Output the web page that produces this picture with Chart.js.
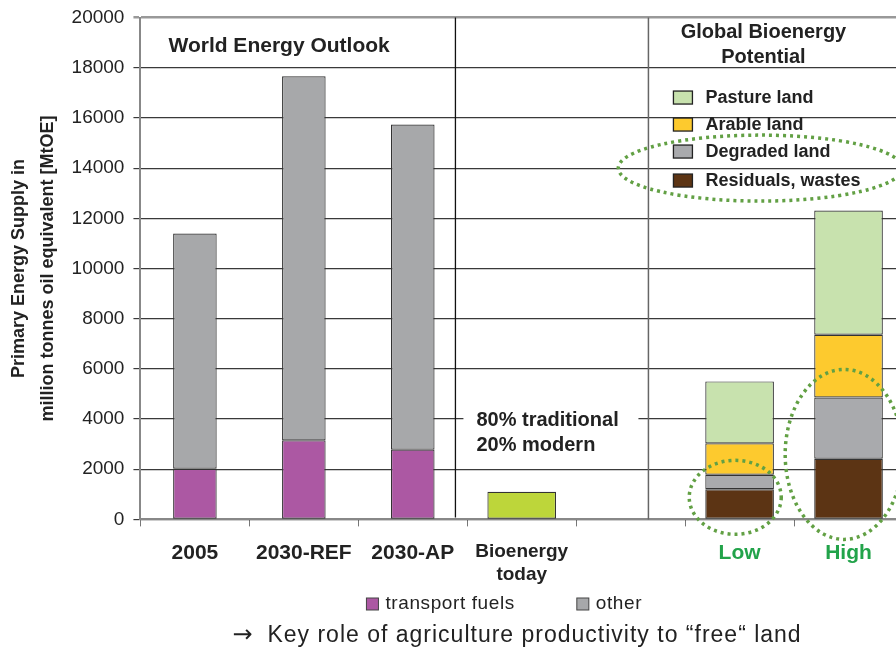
<!DOCTYPE html>
<html>
<head>
<meta charset="utf-8">
<script src="https://cdn.jsdelivr.net/npm/chart.js@4.4.0/dist/chart.umd.min.js"></script>
<style>
  html, body { margin: 0; padding: 0; background: #fff; overflow: hidden; }
  #wrap { width: 905px; height: 653px; }
</style>
</head>
<body>
<div id="wrap"><canvas id="chart"></canvas></div>
<script>
const categories = ["2005", "2030-REF", "2030-AP", ["Bioenergy", "today"], "", "Low", "High"];
const yTicks = [0, 2000, 4000, 6000, 8000, 10000, 12000, 14000, 16000, 18000, 20000];

// World Energy Outlook
const transportFuels = [2020, 3150, 2780, null, null, null, null];
const otherSupply = [9370, 14510, 12960, null, null, null, null];
// today
const bioenergyToday = [null, null, null, 1100, null, null, null];
// global bioenergy potential (low / high)
const residualsWastes = [null, null, null, null, null, 1200, 2420];
const degradedLand = [null, null, null, null, null, 580, 2440];
const arableLand = [null, null, null, null, null, 1250, 2500];
const pastureLand = [null, null, null, null, null, 2470, 4950];

const TEXT = "#222";
const DOTS = "#62a044";
Chart.defaults.font.family = "'Liberation Sans', Arial, sans-serif";
Chart.defaults.color = TEXT;

function font(size, bold, family) {
    return (bold ? "bold " : "") + size + "px " + (family || "'Liberation Sans', Arial, sans-serif");
}

/* ---------------- OVERLAY (panels, notes, legends, circles) ---------------- */

const overlay = {
    id: "overlay",
    beforeDatasetsDraw(chart) {
        const ctx = chart.ctx, ca = chart.chartArea;
        ctx.save();
        // panel separators
        ctx.strokeStyle = "#111";
        ctx.lineWidth = 1.3;
        ctx.beginPath();
        ctx.moveTo(ca.left + 315, ca.top);
        ctx.lineTo(ca.left + 315, ca.bottom - 2);
        ctx.stroke();
        ctx.strokeStyle = "#666";
        ctx.lineWidth = 1.5;
        ctx.beginPath();
        ctx.moveTo(ca.left + 508, ca.top);
        ctx.lineTo(ca.left + 508, ca.bottom);
        ctx.stroke();
        // white box behind the note
        ctx.fillStyle = "#fff";
        ctx.fillRect(ca.left + 323, ca.top + 388, 175, 52);
        ctx.restore();
    },
    afterDraw(chart) {
        const ctx = chart.ctx, ca = chart.chartArea;
        ctx.save();
        ctx.fillStyle = TEXT;
        ctx.textBaseline = "middle";

        ctx.font = font(21, true);
        ctx.textAlign = "left";
        ctx.fillText("World Energy Outlook", ca.left + 28, ca.top + 29);

        ctx.font = font(20, true);
        ctx.textAlign = "center";
        ctx.fillText("Global Bioenergy", ca.left + 623, ca.top + 15);
        ctx.fillText("Potential", ca.left + 623, ca.top + 40);

        ctx.textAlign = "left";
        ctx.fillText("80% traditional", ca.left + 336, ca.top + 403);
        ctx.fillText("20% modern", ca.left + 336, ca.top + 428);

        // potential legend (top right)
        const rows = [6, 5, 4, 3];
        const rowY = [80, 107, 134, 163];
        ctx.font = font(18, true);
        rows.forEach((di, i) => {
            const ds = chart.data.datasets[di];
            const y = ca.top + rowY[i];
            ctx.fillStyle = ds.backgroundColor;
            ctx.fillRect(ca.left + 533, y - 6.5, 19, 13);
            ctx.strokeStyle = "#222";
            ctx.lineWidth = 1.3;
            ctx.strokeRect(ca.left + 533, y - 6.5, 19, 13);
            ctx.fillStyle = TEXT;
            ctx.fillText(ds.label, ca.left + 565, y);
        });

        // bottom legend (WEO series)
        ctx.font = font(19, false);
        ctx.letterSpacing = "0.6px";
        let lx = ca.left + 226;
        const ly = 604;
        [0, 1].forEach(di => {
            const ds = chart.data.datasets[di];
            ctx.fillStyle = ds.backgroundColor;
            ctx.fillRect(lx, ly - 6, 12, 12);
            ctx.strokeStyle = "#444";
            ctx.lineWidth = 1;
            ctx.strokeRect(lx, ly - 6, 12, 12);
            ctx.fillStyle = TEXT;
            ctx.fillText(ds.label, lx + 19, ly);
            lx += 19 + ctx.measureText(ds.label).width + 62;
        });

        // footnote
        ctx.letterSpacing = "0px";
        ctx.font = font(24, false, "'DejaVu Sans', sans-serif");
        ctx.fillText("\u2192", ca.left + 92, 636);
        ctx.font = font(23, false);
        ctx.letterSpacing = "1px";
        ctx.fillText("Key role of agriculture productivity to \u201cfree\u201c land", ca.left + 127, 636);
        ctx.letterSpacing = "0px";

        // dotted circles
        ctx.strokeStyle = DOTS;
        ctx.lineWidth = 3.5;
        ctx.setLineDash([3, 4]);
        const x = chart.scales.x, yS = chart.scales.y;
        [[5.19, 14000, 142, 33], [4.96, 880, 46, 37], [5.96, 2590, 59, 85]].forEach(e => {
            ctx.beginPath();
            ctx.ellipse(x.getPixelForValue(e[0]), yS.getPixelForValue(e[1]), e[2], e[3], 0, 0, Math.PI * 2);
            ctx.stroke();
        });
        ctx.restore();
    }
};

function barSet(label, data, color, pct) {
    return {
        label: label,
        data: data,
        backgroundColor: color,
        borderColor: "#333",
        borderWidth: 1.2,
        borderSkipped: false,
        barPercentage: pct,
        categoryPercentage: 1
    };
}

new Chart(document.getElementById("chart"), {
    type: "bar",
    data: {
        labels: categories,
        datasets: [
            barSet("transport fuels", transportFuels, "#ac58a3", 0.4),
            barSet("other", otherSupply, "#a7a8aa", 0.4),
            barSet("Bioenergy today", bioenergyToday, "#bdd63a", 0.63),
            barSet("Residuals, wastes", residualsWastes, "#5c3414", 0.63),
            barSet("Degraded land", degradedLand, "#a9aaad", 0.63),
            barSet("Arable land", arableLand, "#fdca2e", 0.63),
            barSet("Pasture land", pastureLand, "#c8e2ae", 0.63)
        ]
    },
    options: {
        responsive: true,
        maintainAspectRatio: false,
        animation: false,
        layout: { padding: { top: 16, right: 2, left: 0, bottom: 53 } },
        plugins: {
            legend: { display: false },
            tooltip: { enabled: false }
        },
        scales: {
            x: {
                stacked: true,
                grid: { drawOnChartArea: false, offset: true, tickLength: 7, color: "#777" },
                border: { color: "#888", width: 2 },
                ticks: {
                    autoSkip: false,
                    maxRotation: 0,
                    padding: 14,
                    font: c => ({ size: c.index === 3 ? 19 : 21, weight: "bold" }),
                    color: c => c.index >= 5 ? "#22a34a" : TEXT
                }
            },
            y: {
                stacked: true,
                min: 0,
                max: 20000,
                afterBuildTicks: s => { s.ticks = yTicks.map(v => ({ value: v })); },
                grid: {
                    tickLength: 7,
                    color: c => c.tick && c.tick.value === 20000 ? "#999" : "#3a3a3a",
                    lineWidth: c => c.tick && c.tick.value === 20000 ? 2.5 : 1.2
                },
                border: { color: "#888", width: 2 },
                ticks: { padding: 9, color: TEXT, font: { size: 19, lineHeight: 0.9 }, callback: v => String(v) },
                title: {
                    display: true,
                    text: ["Primary Energy Supply in", "million tonnes oil equivalent [MtOE]"],
                    color: TEXT,
                    font: { size: 18, weight: "bold", lineHeight: 1.6 },
                    padding: { top: 5, bottom: 0 }
                }
            }
        }
    },
    plugins: [overlay]
});
</script>
</body>
</html>
